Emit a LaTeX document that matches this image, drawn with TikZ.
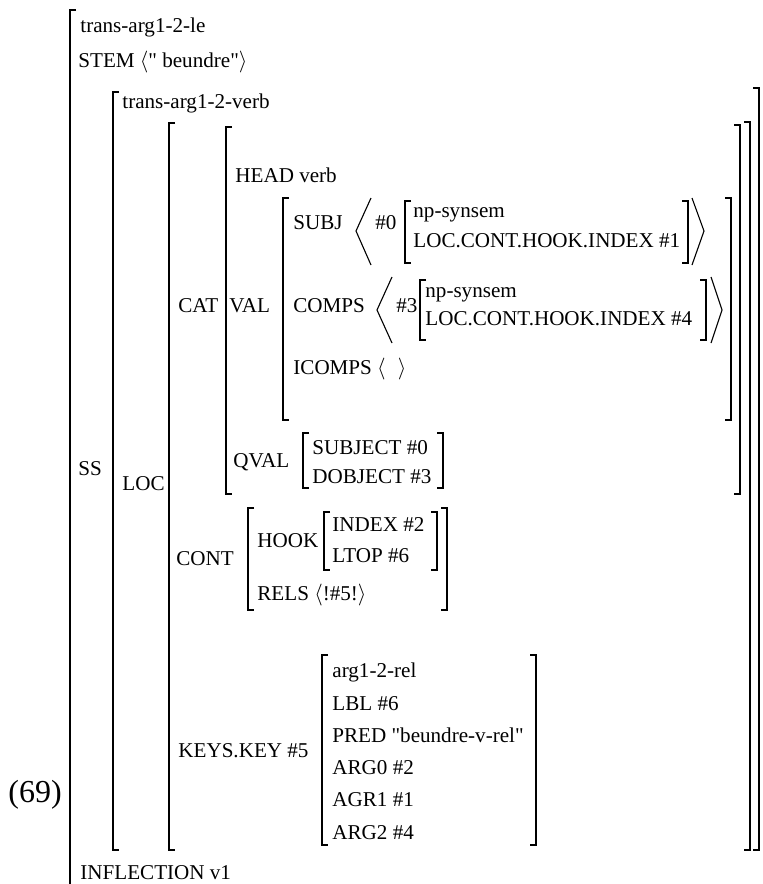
\documentclass[tikz,border=0pt]{standalone}
\usepackage{fontspec}
\setmainfont{Liberation Serif}
\usepackage{tikz}

\begin{document}
\begin{tikzpicture}[x=0.5pt,y=-0.5pt,
    avm/.style={inner sep=0pt,anchor=west,font=\fontsize{10.55}{13}\selectfont,text height=7pt,text depth=0pt},
    brk/.style={line width=0.55pt}]
    \useasboundingbox (0,0) rectangle (763,884);

    % outer matrix
    \draw[brk] (76,10) -- (70,10) -- (70,884);
    \node[avm] (le)   at (80,25)  {trans-arg1-2-le};
    \node[avm] (stem) at (78,60)  {STEM $\big\langle$\textquotedbl{} beundre\textquotedbl$\big\rangle$};
    \node[avm] (ss)   at (78,468) {SS};
    \node[avm] (infl) at (80,872) {INFLECTION v1};
    \node[avm,font=\fontsize{16}{18}\selectfont,text height=10.5pt] (ex) at (8,792) {(69)};

    % left brackets: x / top / bottom
    \foreach \x/\a/\b in {113/92/850, 169/123/850, 226/127/494, 283/198/420,
                          405/201/263, 420/280/340, 303/433/488,
                          248/508/610, 324/512/570, 322/655/845}
        \draw[brk] (\x+6,\a) -- (\x,\a) -- (\x,\b) -- (\x+6,\b);
    % right brackets
    \foreach \x/\a/\b in {759/88/850, 750/122/850, 740/125/494, 731/198/420,
                          688/201/263, 706/280/340, 443/433/488,
                          447/508/610, 437/512/570, 536/655/845}
        \draw[brk] (\x-6,\a) -- (\x,\a) -- (\x,\b) -- (\x-6,\b);

    % SS
    \node[avm] (verb) at (122,101) {trans-arg1-2-verb};
    \node[avm] (loc)  at (122,483) {LOC};

    % CAT
    \node[avm] (cat)  at (178,305) {CAT};
    \node[avm] (head) at (235,175) {HEAD verb};
    \node[avm] (val)  at (229,305) {VAL};

    \node[avm] (subj) at (293,222) {SUBJ};
    \node[avm] (tag0) at (375,222) {\#0};
    \node[avm] (np1)  at (413,210) {np-synsem};
    \node[avm] (idx1) at (413,240) {LOC.CONT.HOOK.INDEX \#1};
    \draw[brk] (371,198) -- (356,231) -- (371,265);
    \draw[brk] (692,198) -- (704,231) -- (692,265);

    \node[avm] (comps) at (293,305) {COMPS};
    \node[avm] (tag3)  at (396,305) {\#3};
    \node[avm] (np2)   at (425,290) {np-synsem};
    \node[avm] (idx4)  at (425,318) {LOC.CONT.HOOK.INDEX \#4};
    \draw[brk] (392,277) -- (377,310) -- (392,343);
    \draw[brk] (711,277) -- (722,310) -- (711,343);

    \node[avm] (icomps) at (293,367) {ICOMPS $\big\langle\;\;\big\rangle$};

    \node[avm] (qval) at (233,460) {QVAL};
    \node[avm] (sbj)  at (312,447) {SUBJECT \#0};
    \node[avm] (dobj) at (312,476) {DOBJECT \#3};

    % CONT
    \node[avm] (cont)  at (176,558) {CONT};
    \node[avm] (hook)  at (257,540) {HOOK};
    \node[avm] (index) at (332,524) {INDEX \#2};
    \node[avm] (ltop)  at (332,555) {LTOP \#6};
    \node[avm] (rels)  at (257,593) {RELS $\langle$!\#5!$\rangle$};

    % KEYS
    \node[avm] (keys) at (178,750) {KEYS.KEY \#5};
    \node[avm] (rel)  at (332,670) {arg1-2-rel};
    \node[avm] (lbl)  at (332,703) {LBL \#6};
    \node[avm] (pred) at (332,735) {PRED \textquotedbl beundre-v-rel\textquotedbl};
    \node[avm] (arg0) at (332,767) {ARG0 \#2};
    \node[avm] (agr1) at (332,799) {AGR1 \#1};
    \node[avm] (arg2) at (332,832) {ARG2 \#4};
\end{tikzpicture}
\end{document}
